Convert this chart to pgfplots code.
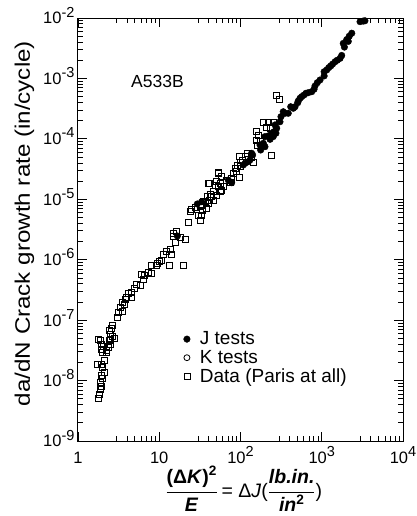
\documentclass[border=0pt]{standalone}
\usepackage{fontspec}
\setmainfont{Liberation Sans}
\usepackage{graphicx}
\usepackage{pgfplots}
\pgfplotsset{compat=1.18}
\newcommand{\tl}[1]{10\raisebox{6.8pt}{\fontsize{14.5}{14.5}\selectfont #1}}

\pgfplotstableread{
x y
3400 9.0e-3
3240 8.9e-3
2960 8.7e-3
2340 5.6e-3
2180 5.0e-3
2030 4.4e-3
2120 4.1e-3
1840 3.8e-3
1900 3.3e-3
1760 2.4e-3
1680 2.15e-3
1550 2.0e-3
1460 1.89e-3
1360 1.73e-3
1290 1.61e-3
1220 1.51e-3
1150 1.38e-3
1070 1.29e-3
1070 1.10e-3
952 9.42e-4
881 8.50e-4
826 7.50e-4
803 6.61e-4
752 6.03e-4
683 5.81e-4
640 5.68e-4
605 5.32e-4
566 4.99e-4
540 4.69e-4
514 4.23e-4
506 3.97e-4
469 3.40e-4
447 3.21e-4
415 3.40e-4
387 2.65e-4
353 2.65e-4
336 2.81e-4
315 2.33e-4
306 1.92e-4
266 1.70e-4
279 1.50e-4
258 1.31e-4
242 1.24e-4
220 1.12e-4
200 1.09e-4
273 1.24e-4
253 1.09e-4
231 9.83e-5
191 8.44e-5
182 7.42e-5
200 7.42e-5
177 6.54e-5
174 7.91e-5
137 5.77e-5
141 5.41e-5
131 4.47e-5
125 4.19e-5
114 3.94e-5
108 3.69e-5
77.9 1.88e-5
70.8 2.08e-5
33.3 9.12e-6
29.4 8.36e-6
16.7 2.47e-6
}\jtests

\pgfplotstableread{
x y
273 5.32e-4
298 4.57e-4
191 1.88e-4
220 1.85e-4
253 1.85e-4
206 1.53e-4
231 1.50e-4
155 1.35e-4
166 1.12e-4
158 9.32e-5
174 8.97e-5
161 7.91e-5
242 5.41e-5
121 5.77e-5
114 5.20e-5
137 4.95e-5
96.7 5.07e-5
106 4.47e-5
98.6 4.03e-5
144 4.03e-5
91.3 3.60e-5
98.6 3.46e-5
85.6 3.26e-5
88.0 2.86e-5
81.5 2.69e-5
96.7 2.31e-5
77.9 2.22e-5
74.3 1.88e-5
66.3 2.08e-5
53.3 2.69e-5
58.7 2.36e-5
50.9 1.95e-5
55.9 1.84e-5
48.5 1.72e-5
53.3 1.62e-5
61.4 1.62e-5
58.7 1.43e-5
46.3 1.34e-5
55.9 1.34e-5
40.1 1.84e-5
49.9 1.18e-5
44.2 1.10e-5
41.3 9.73e-6
46.3 9.73e-6
36.6 9.12e-6
40.1 8.58e-6
38.4 7.10e-6
34.3 6.65e-6
33.3 5.50e-6
32.4 4.54e-6
30.2 5.50e-6
31.7 4.42e-6
22.8 4.10e-6
41.3 1.82e-5
53.3 2.80e-5
42.1 1.20e-5
39.0 1.10e-5
34.8 9.12e-6
33.3 8.04e-6
31.7 7.54e-6
27.5 7.37e-6
25.1 6.83e-6
23.9 6.40e-6
34.3 6.48e-6
16.4 2.91e-6
14.9 2.40e-6
18.4 2.35e-6
20.8 2.18e-6
15.6 1.91e-6
13.6 1.49e-6
12.4 1.36e-6
14.2 1.24e-6
11.2 1.24e-6
10.7 9.89e-7
10.0 9.27e-7
8.07 8.18e-7
9.12 8.18e-7
13.3 8.18e-7
19.8 8.18e-7
9.38 8.72e-7
14.9 2.74e-6
6.08 5.80e-7
6.55 5.44e-7
6.37 4.74e-7
8.07 5.96e-7
7.33 6.19e-7
5.17 3.92e-7
5.80 3.82e-7
4.93 3.37e-7
4.49 2.85e-7
4.16 2.78e-7
4.58 2.35e-7
3.97 2.39e-7
3.79 2.21e-7
3.55 2.00e-7
3.68 1.83e-7
3.29 1.63e-7
3.51 1.38e-7
3.13 1.33e-7
3.08 1.11e-7
2.67 8.31e-8
2.55 7.33e-8
2.43 6.69e-8
2.53 5.83e-8
2.64 5.32e-8
2.77 4.93e-8
2.48 4.88e-8
2.43 4.69e-8
2.48 4.03e-8
2.36 3.56e-8
2.25 3.21e-8
2.21 2.89e-8
2.05 3.64e-8
1.96 3.29e-8
1.87 4.69e-8
1.92 4.03e-8
1.78 4.82e-8
2.01 2.97e-8
2.11 2.13e-8
1.75 1.88e-8
1.92 1.88e-8
2.01 1.66e-8
2.09 1.35e-8
1.96 1.24e-8
2.01 1.09e-8
1.90 9.22e-9
1.92 7.92e-9
1.87 7.17e-9
1.83 6.00e-9
1.80 5.09e-9
}\datapts

\begin{document}
\begin{tikzpicture}
\path[use as bounding box] (-78pt,-75pt) rectangle (338pt,441pt);
\begin{axis}[
  at={(0pt,0pt)}, anchor=south west,
  scale only axis, width=325pt, height=423pt,
  xmode=log, ymode=log,
  xmin=1, xmax=1e4, ymin=1e-9, ymax=1e-2,
  xtick={1,10,100,1000,10000},
  xticklabels={1,10,\tl{2},\tl{3},\tl{4}},
  minor xtick={3,4,5,6,7,8,9,30,40,50,60,70,80,90,300,400,500,600,700,800,900,3000,4000,5000,6000,7000,8000,9000},
  ytick={1e-9,1e-8,1e-7,1e-6,1e-5,1e-4,1e-3,1e-2},
  yticklabels={\tl{-9},\tl{-8},\tl{-7},\tl{-6},\tl{-5},\tl{-4},\tl{-3},\tl{-2}},
  tick label style={font=\fontsize{16.5}{16.5}\selectfont},
  xticklabel style={anchor=base, yshift=-22pt},
  yticklabel style={anchor=base east, yshift=-5.9pt},
  major tick length=9pt, minor tick length=5pt,
  every tick/.style={black, line width=0.8pt},
  axis line style={line width=1pt},
  clip=false,
  ylabel={\scalebox{1.15}[1]{\fontsize{21}{21}\selectfont da/dN Crack growth rate (in/cycle)}},
  ylabel style={at={(axis description cs:-0.165,0.514)}, anchor=center},
  xlabel={\fontsize{19.5}{19.5}\selectfont $\displaystyle\frac{\textbf{(Δ\textit{K})\textsuperscript{2}}}{\textbf{\textit{E}}}\,\mbox{= Δ\textit{J}(}\frac{\textbf{\textit{lb.in.}}}{\textbf{\textit{in}\textsuperscript{2}}}\mbox{)}$},
  xlabel style={at={(axis description cs:0.51,0)}, anchor=center, yshift=-48pt},
  legend image code/.code={\path[draw=none,fill=none] (0pt,0pt) -- (15pt,0pt); \draw[#1] plot coordinates {(4pt,0pt)};},
  legend style={draw=none, fill=none, at={(axis description cs:0.313,0.268)}, anchor=north west, font=\fontsize{19}{19}\selectfont},
  legend cell align=left,
]
\addplot[only marks, mark=*, mark size=3.3pt, black] table {\jtests};
\addlegendentry{J tests}
\addlegendimage{only marks, mark=o, mark size=3pt, black, line width=0.8pt}
\addlegendentry{K tests}
\addplot[only marks, mark=square, mark size=3pt, black, line width=0.8pt] table {\datapts};
\addlegendentry{Data (Paris at all)}
\node[font=\fontsize{17.5}{17.5}\selectfont] at (axis cs:9.5,8.9e-4) {A533B};
\end{axis}
\end{tikzpicture}
\end{document}
